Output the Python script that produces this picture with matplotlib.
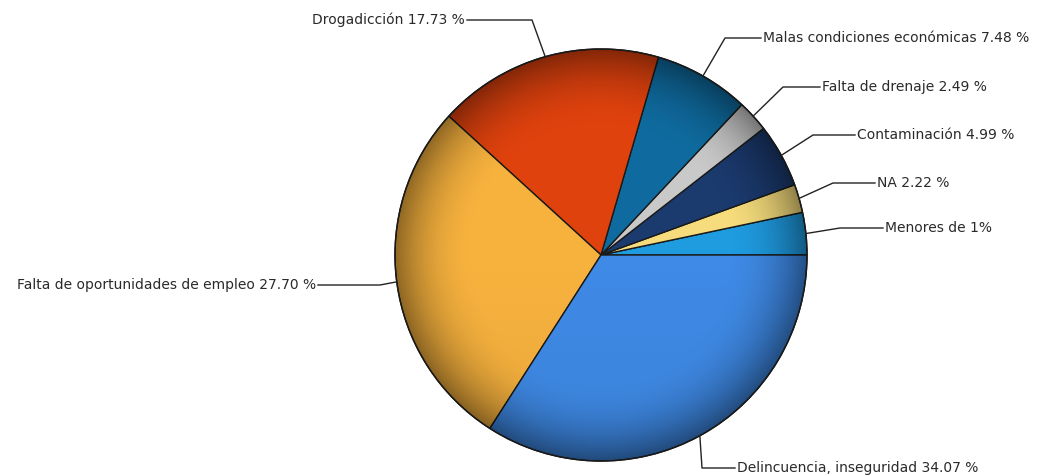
import matplotlib
matplotlib.use('Agg')
import matplotlib.pyplot as plt
from matplotlib.patches import Circle
import numpy as np

# Data (counter-clockwise from 3 o'clock)
labels = ['Menores de 1%', 'NA 2.22 %', 'Contaminación 4.99 %', 'Falta de drenaje 2.49 %',
          'Malas condiciones económicas 7.48 %', 'Drogadicción 17.73 %',
          'Falta de oportunidades de empleo 27.70 %', 'Delincuencia, inseguridad 34.07 %']
values = [3.32, 2.22, 4.99, 2.49, 7.48, 17.73, 27.70, 34.07]
colors = ['#1f9be0', '#f6dc7c', '#1b3a6e', '#c9c9c9', '#0f6b9f', '#e0420e', '#f7b23e', '#3f8ae6']

# Leader line elbows / horizontal end (pixel coords, y from top)
elbows = [(840, 228), (833, 183), (813, 135), (783, 87), (725, 38), (532, 20), (380, 285), (702, 468)]
ends = [883, 875, 855, 820, 761, 467, 318, 735]

W, H = 1043, 476
cx, cy, r = 601, H - 255, 206

fig = plt.figure(figsize=(W / 100, H / 100), dpi=100)
ax = fig.add_axes([0, 0, 1, 1])

wedges, _ = ax.pie(values, colors=colors, startangle=0, counterclock=True,
                   center=(cx, cy), radius=r,
                   wedgeprops=dict(edgecolor='#1a1a1a', linewidth=1.0))

# shading: darker towards the rim
n = 400
xx, yy = np.meshgrid(np.linspace(-1, 1, n), np.linspace(-1, 1, n))
rho = np.sqrt(xx ** 2 + yy ** 2)
shade = np.zeros((n, n, 4))
alpha = np.clip((rho - 0.6) / 0.4, 0, 1) ** 2.2 * 0.42
alpha += np.clip(-yy, 0, 1) * 0.05
shade[..., 3] = np.clip(alpha, 0, 1)
img = ax.imshow(shade, extent=[cx - r, cx + r, cy - r, cy + r], origin='lower',
                interpolation='bilinear', zorder=3)
clip = Circle((cx, cy), r, transform=ax.transData)
img.set_clip_path(clip)
ax.add_patch(Circle((cx, cy), r, fill=False, edgecolor='#1a1a1a', linewidth=1.0, zorder=4))

for w, lab, (ex, ey), end in zip(wedges, labels, elbows, ends):
    ang = np.deg2rad((w.theta1 + w.theta2) / 2)
    sx, sy = cx + r * np.cos(ang), cy + r * np.sin(ang)
    ey = H - ey
    ax.plot([sx, ex, end], [sy, ey, ey], color='#222222', linewidth=1.0, zorder=5)
    if end < ex:
        ax.text(end - 2, ey, lab, ha='right', va='center', fontsize=10, color='#2a2a2a')
    else:
        ax.text(end + 2, ey, lab, ha='left', va='center', fontsize=10, color='#2a2a2a')

ax.set_xlim(0, W)
ax.set_ylim(0, H)
ax.set_aspect('auto')
ax.axis('off')

plt.savefig('out.png', dpi=100, facecolor='white')
